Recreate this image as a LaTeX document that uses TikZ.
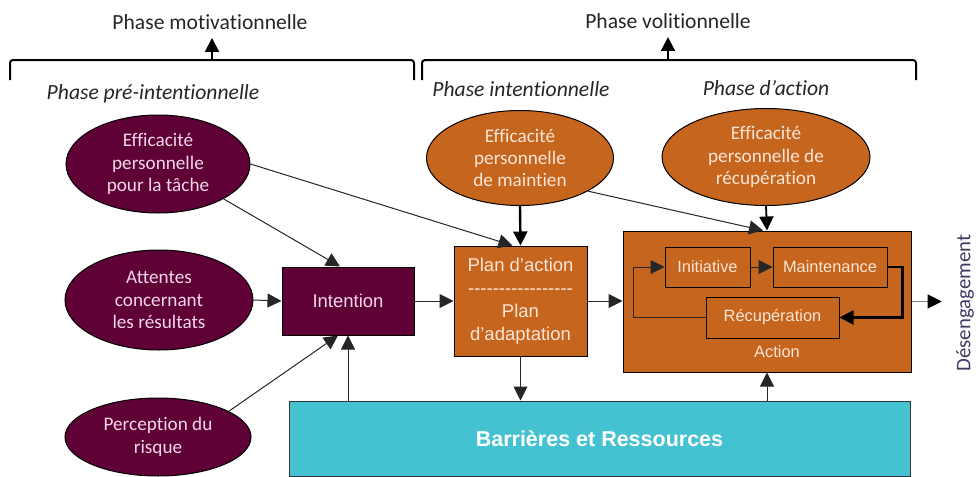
\documentclass[tikz,border=0pt]{standalone}
\usepackage{fontspec}
\setmainfont{Carlito}[Ligatures={TeX,NoCommon}]
\newfontfamily\arialfont{Liberation Sans}[Ligatures=TeX]
\usepackage{xcolor}
\usetikzlibrary{shapes.geometric, arrows.meta}
\definecolor{maroonE}{RGB}{95,0,55}
\definecolor{orangeE}{RGB}{197,101,30}
\definecolor{tealB}{RGB}{69,194,209}
\definecolor{pinkT}{RGB}{242,215,230}
\definecolor{creamT}{RGB}{251,229,214}
\definecolor{headT}{RGB}{38,38,38}
\definecolor{desT}{RGB}{60,60,100}
\tikzset{
  phase/.style={text=headT, inner sep=4pt, font=\fontsize{10.8}{13}\selectfont},
  subphase/.style={phase, inner sep=1pt, font=\fontsize{10.8}{13}\selectfont\itshape},
  oval/.style={ellipse, draw=black, line width=0.5pt, inner sep=0pt, align=center,
    font=\fontsize{9.6}{11.2}\selectfont},
  ovalM/.style={oval, fill=maroonE, text=pinkT},
  ovalO/.style={oval, fill=orangeE, text=creamT},
  blk/.style={rectangle, draw=black, line width=0.5pt, inner sep=0pt, align=center,
    font=\arialfont\fontsize{9.25}{11.5}\selectfont},
  boxM/.style={blk, fill=maroonE, text=pinkT},
  boxO/.style={blk, fill=orangeE, text=creamT},
  subbox/.style={boxO, minimum height=20pt, font=\arialfont\fontsize{8.2}{10}\selectfont},
  brace/.style={draw=black, line width=1pt, rounded corners=1.5pt},
  link/.style={draw=black!85, line width=0.5pt, -{Triangle[length=7pt,width=7pt]}},
  linkthick/.style={link, draw=black, line width=1.2pt}
}
\newcommand\dashrow{\foreach \k in {1,...,17}{-}}

\begin{document}
\begin{tikzpicture}[x=0.5pt, y=-0.5pt]
  \useasboundingbox (0,0) rectangle (976,477);
  % phases
  \draw[brace] (10,80) -- (10,60) -- (414,60) -- (414,80);
  \draw[brace] (422,80) -- (422,60) -- (916,60) -- (916,80);
  \coordinate (braceL) at (212,60);
  \coordinate (braceR) at (668,60);
  \node[phase] (motiv) at (210,22) {Phase motivationnelle};
  \node[phase] (volit) at (668,21) {Phase volitionnelle};
  \draw[linkthick, line width=1pt] (braceL) -- (braceL |- motiv.south);
  \draw[linkthick, line width=1pt] (braceR) -- (braceR |- volit.south);
  \node[subphase] (preint) at (153,94) {Phase pré-intentionnelle};
  \node[subphase] (intphase) at (521,89) {Phase intentionnelle};
  \node[subphase] (actphase) at (766,88) {Phase d’action};

  % efficacite et attentes
  \node[ovalM, minimum width=92pt, minimum height=49pt] (effT) at (158,164) {Efficacité\\personnelle\\pour la tâche};
  \node[ovalM, minimum width=94pt, minimum height=50pt] (att) at (159,300) {Attentes\\concernant\\les résultats};
  \node[ovalM, minimum width=93pt, minimum height=39pt] (risk) at (158,437) {Perception du\\risque};
  \node[ovalO, minimum width=93.5pt, minimum height=47.5pt] (effM) at (520,158) {Efficacité\\personnelle\\de maintien};
  \node[ovalO, minimum width=104pt, minimum height=48.5pt] (effR) at (766,157) {Efficacité\\personnelle de\\récupération};

  % boites
  \node[boxM, minimum width=66pt, minimum height=34pt] (intention) at (348,301) {Intention};
  \node[boxO, minimum width=66.5pt, minimum height=55pt] (plan) at (520.5,301) {Plan d’action\\\dashrow\\Plan\\d’adaptation};
  \node[boxO, minimum width=144pt, minimum height=70.5pt] (action) at (767,301.5) {};
  \node[subbox, minimum width=42.5pt] (init) at (707.5,267) {Initiative};
  \node[subbox, minimum width=57pt] (maint) at (830,267) {Maintenance};
  \node[subbox, minimum width=66.5pt, minimum height=20.5pt] (recup) at (772.5,317.5) {Récupération};
  \node[text=creamT, font=\arialfont\fontsize{8.2}{10}\selectfont] (actlbl) at (777,352) {Action};
  \node[rectangle, draw=black!80, line width=0.5pt, fill=tealB, text=white,
    minimum width=310.5pt, minimum height=37.5pt,
    font=\arialfont\bfseries\fontsize{10.75}{13}\selectfont] (bar) at (599.5,438.5) {Barrières et Ressources};
  \node[rotate=90, text=desT, inner sep=7pt, font=\fontsize{10.4}{12}\selectfont] (deseng) at (965,303) {Désengagement};

  % liens
  \draw[link] (effT.east) -- ([xshift=-4pt]plan.north);
  \draw[link] (effT.-28) -- ([xshift=-4pt]intention.north);
  \draw[link] (att.east) -- (intention.west);
  \draw[link] (risk.20) -- ([xshift=-5pt]intention.south);
  \draw[link] (intention.south |- bar.north) -- (intention.south);
  \draw[link] (intention) -- (plan);
  \draw[link] (plan.east) -- (action.west |- plan.east);
  \draw[link] (plan.south) -- (plan.south |- bar.north);
  \draw[link] (action.south |- bar.north) -- (action.south);
  \draw[linkthick] (effM.south) -- (plan.north);
  \draw[link] (effM.-26) -- ([xshift=-2pt]action.north);
  \draw[linkthick, line width=0.9pt] (effR.south) -- (action.north);
  \draw[link] (init) -- (maint);
  \draw[linkthick] (maint.east) -- ([xshift=7.5pt]maint.east) |- (recup.east);
  \draw[link] (recup.west) -| ([xshift=-15.5pt]init.west) -- (init.west);
  \draw[link, draw=gray, -{Triangle[length=7pt,width=7pt,color=black]}] (action.east) -- (action.east -| deseng.north);
\end{tikzpicture}
\end{document}
